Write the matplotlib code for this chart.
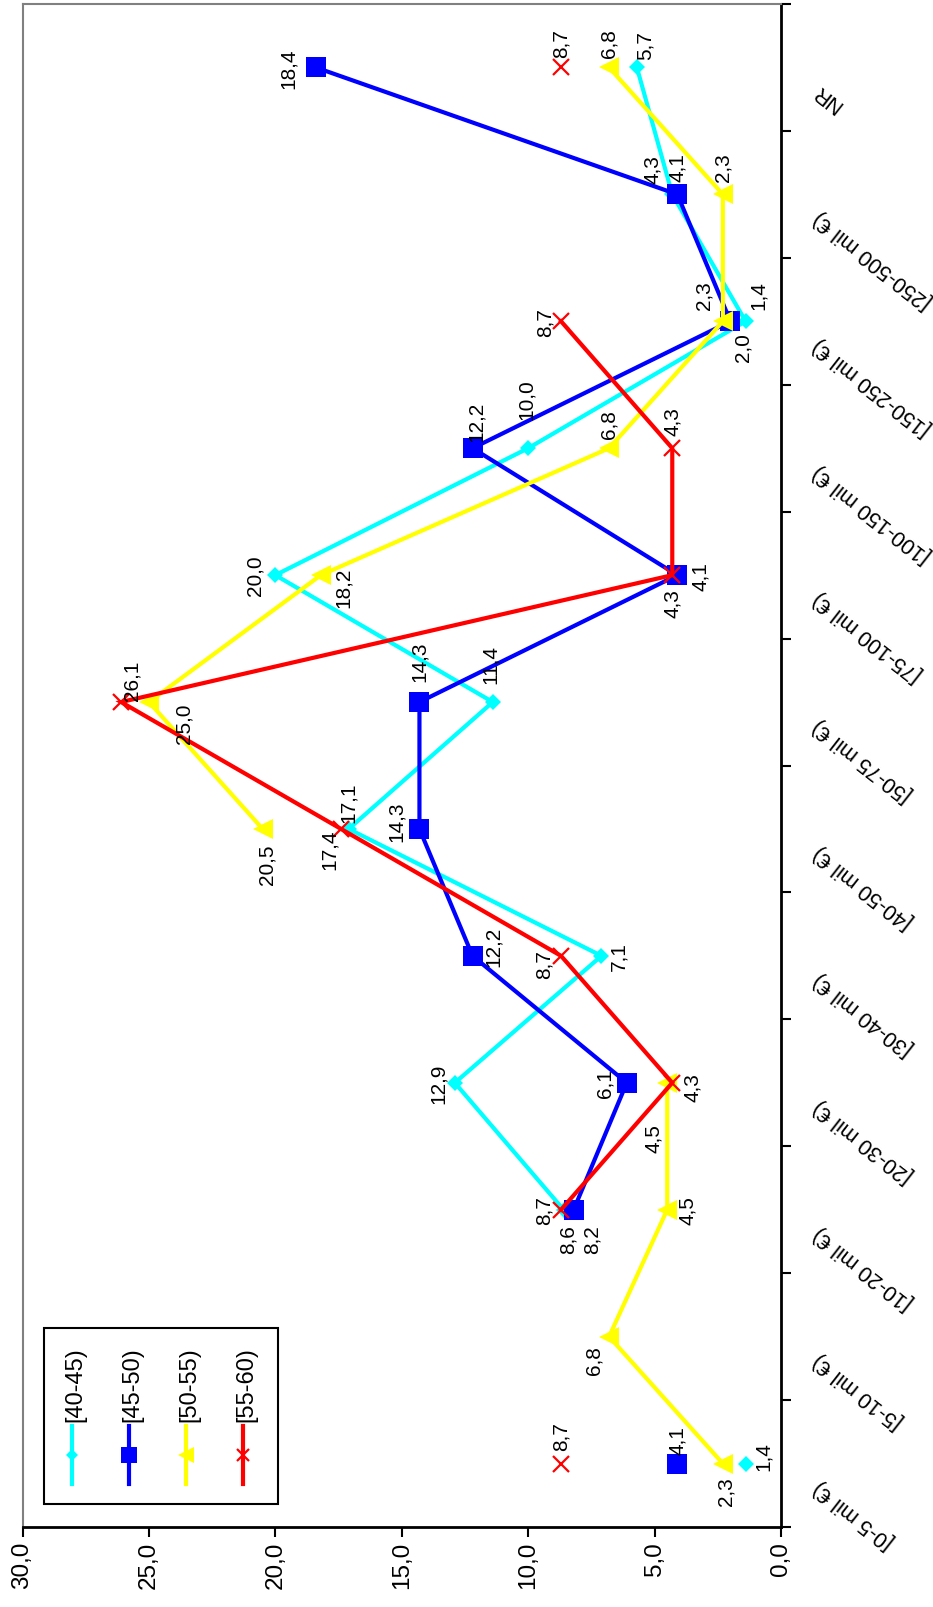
import numpy as np
import matplotlib.pyplot as plt
from matplotlib.patches import Rectangle

plt.rcParams['font.family'] = ['Liberation Sans', 'DejaVu Sans']

# categories from bottom to top of the (rotated) chart
categories = ['[0-5 mil €)', '[5-10 mil €)', '[10-20 mil €)', '[20-30 mil €)',
              '[30-40 mil €)', '[40-50 mil €)', '[50-75 mil €)', '[75-100 mil €)',
              '[100-150 mil €)', '[150-250 mil €)', '[250-500 mil €)', 'NR']
series_names = ['[40-45)', '[45-50)', '[50-55)', '[55-60)']
nan = np.nan
v_40_45 = [1.4, nan, 8.6, 12.9, 7.1, 17.1, 11.4, 20.0, 10.0, 1.4, 4.3, 5.7]
v_45_50 = [4.1, nan, 8.2, 6.1, 12.2, 14.3, 14.3, 4.1, 12.2, 2.0, 4.1, 18.4]
v_50_55 = [2.3, 6.8, 4.5, 4.5, nan, 20.5, 25.0, 18.2, 6.8, 2.3, 2.3, 6.8]
v_55_60 = [8.7, nan, 8.7, 4.3, 8.7, 17.4, 26.1, 4.3, 4.3, 8.7, nan, 8.7]
value_ticks = [0, 5, 10, 15, 20, 25, 30]

# label offsets in pixels (right, up), hand placed like the original
off_40_45 = [(18, 8), None, (5, -29), (-16, 0), (17, 0), (0, 27), (-2, 39), (-20, 0), (-2, 50), (13, 27), (-20, 26), (8, 23)]
off_45_50 = [(0, 24), None, (18, -29), (-22, 0), (21, 10), (-23, 8), (0, 41), (23, 0), (4, 27), (13, -25), (0, 28), (-27, 0)]
off_50_55 = [(3, -27), (-15, -23), (20, 0), (-14, -55), None, (4, -35), (35, -21), (23, -12), (0, 25), (-19, 27), (0, 28), (0, 25)]
off_55_60 = [(0, 28), None, (-17, 0), (20, -4), (-17, -8), (-12, -20), (11, 22), (0, -27), (0, 28), (-16, 0), None, (0, 25)]

styles = [
    dict(color='#00FFFF', marker='D', ms=8, mew=0),
    dict(color='#0000FF', marker='s', ms=15, mew=0),
    dict(color='#FFFF00', marker='<', ms=15, mew=0),
    dict(color='#FF0000', marker='x', ms=11, mew=1.6),
]

W, H = 933, 1608
fig = plt.figure(figsize=(W / 100, H / 100), dpi=100)
L, R, T, B = 22.5, 781, 5, 1528
ax = fig.add_axes([L / W, 1 - B / H, (R - L) / W, (B - T) / H])

ypos = np.arange(len(categories))
all_vals = [v_40_45, v_45_50, v_50_55, v_55_60]
all_offs = [off_40_45, off_45_50, off_50_55, off_55_60]
for vals, offs, st in zip(all_vals, all_offs, styles):
    ax.plot(vals, ypos, lw=3, color=st['color'], marker=st['marker'],
            markersize=st['ms'], markeredgewidth=st['mew'],
            markeredgecolor=st['color'], solid_joinstyle='miter')
    for v, y, o in zip(vals, ypos, offs):
        if np.isnan(v) or o is None:
            continue
        ax.annotate(f"{v:.1f}".replace('.', ','), (v, y), xytext=o,
                    textcoords='offset pixels', rotation=90,
                    ha='center', va='center', fontsize=15)

ax.set_xlim(30, 0)
ax.set_ylim(-0.5, len(categories) - 0.5)

ax.set_xticks(value_ticks, labels=[f"{t:.1f}".replace('.', ',') for t in value_ticks],
              rotation=90, fontsize=17.5)
ax.tick_params(axis='x', direction='out', length=7, width=1.5, pad=3)

ax.yaxis.tick_right()
ax.set_yticks(np.arange(-0.5, len(categories), 1), labels=[])
ax.tick_params(axis='y', direction='out', length=7, width=1.5)
for i, c in enumerate(categories):
    ax.annotate(c, (1, i), xycoords=('axes fraction', 'data'), xytext=(28, -12),
                textcoords='offset pixels', rotation=142, ha='left', va='top',
                fontsize=15.5)

for s in ['left', 'top']:
    ax.spines[s].set_color('#808080')
    ax.spines[s].set_linewidth(1.5)
for s in ['right', 'bottom']:
    ax.spines[s].set_color('black')
    ax.spines[s].set_linewidth(2)

# rotated legend drawn by hand in pixel coordinates
lg = fig.add_axes([0, 0, 1, 1], facecolor='none')
lg.set_xlim(0, W)
lg.set_ylim(H, 0)
lg.axis('off')
lg.add_patch(Rectangle((44, 1329), 234, 176, fill=False, edgecolor='black', lw=1.5))
for k, (name, st) in enumerate(zip(series_names, styles)):
    x = 72 + k * 57
    lg.plot([x, x, x], [1427, 1456, 1485], lw=3, color=st['color'], marker=st['marker'],
            markersize=st['ms'] * 0.8, markeredgewidth=st['mew'],
            markeredgecolor=st['color'], markevery=[1])
    lg.text(x + 3, 1422, name, rotation=90, ha='center', va='bottom', fontsize=17)

fig.savefig('out.png', dpi=100)
